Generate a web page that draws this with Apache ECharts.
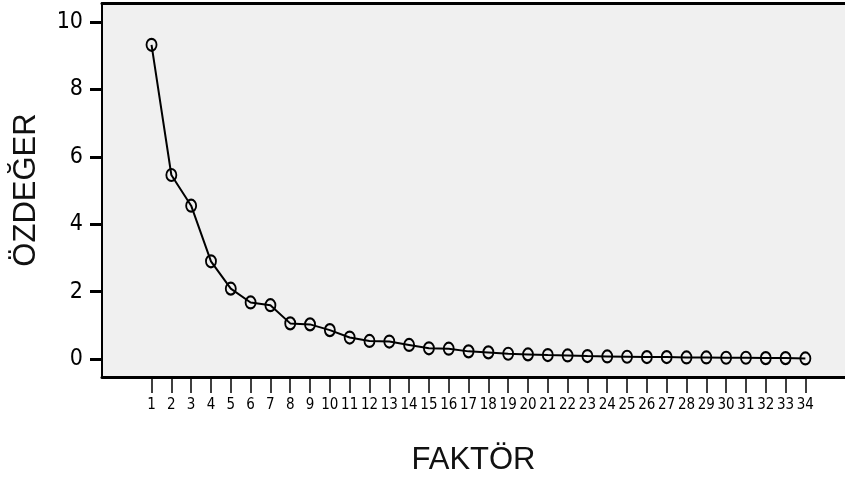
<!DOCTYPE html>
<html>
<head>
<meta charset="utf-8">
<script src="https://cdn.jsdelivr.net/npm/echarts@6/dist/echarts.min.js"></script>
<style>
html, body { margin: 0; padding: 0; background: #fff; }
#chart { width: 845px; height: 481px; }
</style>
</head>
<body>
<div id="chart"></div>
<script>
// faktör numaraları ve özdeğerler (scree plot)
const factors = [1, 2, 3, 4, 5, 6, 7, 8, 9, 10, 11, 12, 13, 14, 15, 16, 17,
  18, 19, 20, 21, 22, 23, 24, 25, 26, 27, 28, 29, 30, 31, 32, 33, 34]
const eigenvalues = [9.32, 5.46, 4.55, 2.90, 2.09, 1.68, 1.60, 1.06, 1.03, 0.86,
  0.64, 0.54, 0.52, 0.42, 0.32, 0.31, 0.23, 0.20, 0.16, 0.14, 0.12, 0.11, 0.09,
  0.08, 0.07, 0.06, 0.06, 0.05, 0.05, 0.04, 0.04, 0.03, 0.03, 0.02]
const yTicks = [0, 2, 4, 6, 8, 10]

const narrow = "'Liberation Sans Narrow', 'DejaVu Sans Condensed', 'Liberation Sans', sans-serif"
const wide = "'Liberation Sans', Arial, sans-serif"

const chartDom = document.getElementById('chart')
const myChart = echarts.init(chartDom)
let option

option = {
  animation: false,
  backgroundColor: '#fff',
  grid: {
    left: 102,
    right: 0,
    top: 3,
    bottom: 102,
    show: true,
    backgroundColor: '#f0f0f0',
    borderWidth: 0
  },
  xAxis: [
    {
      type: 'value',
      min: -1.5,
      max: 36,
      position: 'bottom',
      name: 'FAKTÖR',
      nameLocation: 'middle',
      nameGap: 68,
      nameTextStyle: { fontFamily: wide, fontSize: 31, color: '#111' },
      axisLine: { show: true, onZero: false, lineStyle: { color: '#000', width: 3 } },
      axisTick: {
        show: true,
        inside: false,
        length: 16,
        customValues: factors,
        lineStyle: { color: '#000', width: 1.5 }
      },
      axisLabel: {
        customValues: factors,
        margin: 21,
        fontFamily: narrow,
        fontSize: 15,
        color: '#000'
      },
      splitLine: { show: false }
    },
    {
      type: 'value',
      min: -1.5,
      max: 36,
      position: 'top',
      axisLine: { show: true, onZero: false, lineStyle: { color: '#000', width: 3 } },
      axisTick: { show: false },
      axisLabel: { show: false },
      splitLine: { show: false }
    }
  ],
  yAxis: {
    type: 'value',
    min: -0.53,
    max: 10.56,
    name: 'ÖZDEĞER',
    nameLocation: 'middle',
    nameRotate: 90,
    nameGap: 60,
    nameTextStyle: { fontFamily: wide, fontSize: 31, color: '#111' },
    axisLine: { show: true, onZero: false, lineStyle: { color: '#000', width: 2 } },
    axisTick: {
      show: true,
      inside: false,
      length: 12,
      customValues: yTicks,
      lineStyle: { color: '#000', width: 3 }
    },
    axisLabel: {
      customValues: yTicks,
      margin: 19,
      fontFamily: narrow,
      fontSize: 23,
      color: '#000'
    },
    splitLine: { show: false }
  },
  series: [
    {
      type: 'line',
      xAxisIndex: 0,
      data: factors.map((f, i) => [f, eigenvalues[i]]),
      symbol: 'circle',
      symbolSize: [10, 12],
      showAllSymbol: true,
      lineStyle: { color: '#000', width: 2 },
      itemStyle: { color: 'transparent', borderColor: '#000', borderWidth: 2 }
    }
  ]
}

option && myChart.setOption(option)
</script>
</body>
</html>
